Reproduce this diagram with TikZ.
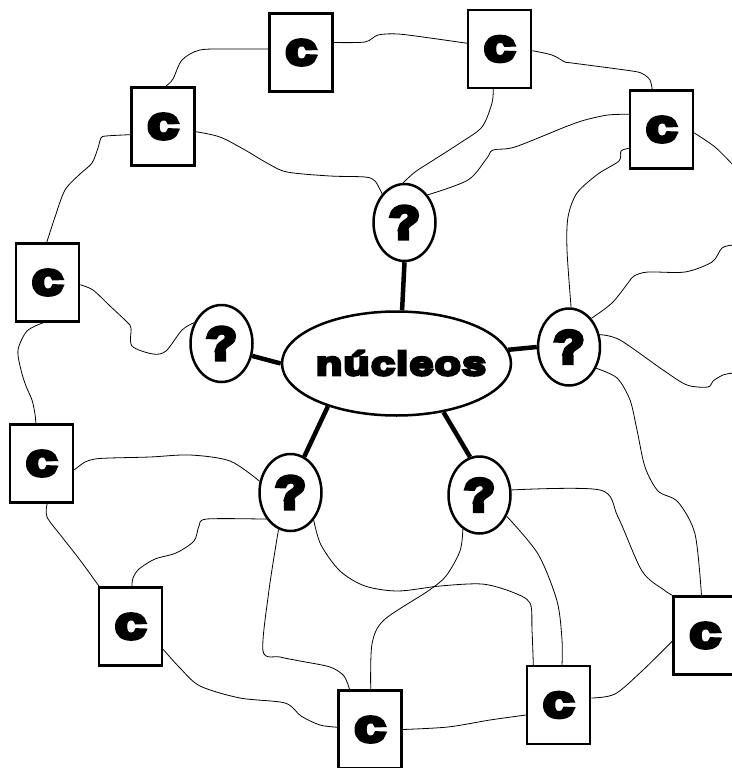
\documentclass[tikz,border=0pt]{standalone}
\usepackage{fontspec}
\usetikzlibrary{shapes.geometric}
\newfontfamily\heavyc[FakeBold=9,FakeStretch=1.25]{Liberation Sans Bold}
\newfontfamily\heavyq[FakeBold=9,FakeStretch=1.1]{Liberation Sans Bold}
\newfontfamily\heavyn[FakeBold=9,FakeStretch=1.3,LetterSpace=4]{Liberation Sans Bold}
\begin{document}
\begin{tikzpicture}[x=1pt,y=-1pt,
  cbox/.style={draw, line width=2.5pt, minimum width=63pt, minimum height=78pt, inner sep=0pt, fill=white,
    font=\heavyc\fontsize{45}{45}\selectfont},
  qnode/.style={ellipse, draw, line width=2.5pt, minimum width=62pt, minimum height=77pt, inner sep=0pt, fill=white,
    font=\heavyq\fontsize{46}{46}\selectfont},
  conn/.style={line width=0.8pt},
  spoke/.style={line width=4.5pt}]
\useasboundingbox (0,0) rectangle (731,768);
% boxes
\node[cbox] (cA) at (301,52.5) {c};
\node[cbox] (cB) at (163,126.5) {c};
\node[cbox] (cC) at (47.5,282.5) {c};
\node[cbox] (cD) at (499.5,49) {c};
\node[cbox] (cE) at (661.5,129.5) {c};
\node[cbox] (cF) at (41.5,463.5) {c};
\node[cbox] (cG) at (130.5,626.5) {c};
\node[cbox] (cH) at (370,729.5) {c};
\node[cbox] (cI) at (558.5,705) {c};
\node[cbox] (cJ) at (705,635.5) {c};
% question ellipses
\node[qnode] (q1) at (404.5,222.5) {?};
\node[qnode] (q2) at (221.5,343.5) {?};
\node[qnode] (q3) at (569,347) {?};
\node[qnode] (q4) at (290.5,492.5) {?};
\node[qnode] (q5) at (479.5,495) {?};
% nucleus
\node[ellipse, draw, line width=2.5pt, minimum width=229pt, minimum height=104pt, inner sep=0pt] (nuc) at (396.5,363.5) {};
\node[font=\heavyn\fontsize{33}{33}\selectfont, inner sep=0pt, anchor=base] (nuctext) at (401,375) {núcleos};
% free ends
\coordinate (e1) at (733,245);
\coordinate (e2) at (733,165);
\coordinate (e3) at (733,373);
% spokes
\draw[spoke] (q1.south) -- (nuc.84);
\draw[spoke] (q2.-22) -- (nuc.west);
\draw[spoke] (q3.west) -- (nuc.7);
\draw[spoke] (nuc.212) -- (q4.69);
\draw[spoke] (nuc.-46) -- (q5.104);
% connectors
\draw[conn] plot[smooth] coordinates {(cB.86) (173,79) (182,60) (200,50) (232,49) (cA.174)};
\draw[conn] plot[smooth] coordinates {(cA.17) (365,42) (378,35) (398,34) (430,38) (cD.170)};
\draw[conn] plot[smooth] coordinates {(cD.-3) (552,55) (565,62) (572,63) (632,71) (643,74) (650,80) (cE.103)};
\draw[conn] plot[smooth] coordinates {(cD.261) (492,103) (482,127) (460,143) (432,161) (415,172) (q1.92)};
\draw[conn] plot[smooth] coordinates {(cE.155) (608,115) (585,120) (565,127) (515,147) (493,150) (487,158) (468,180) (q1.50)};
\draw[conn] plot[smooth] coordinates {(cB.-9) (220,137) (245,150) (267,163) (287,172) (330,176) (365,177) (375,181) (q1.128)};
\draw[conn] plot[smooth] coordinates {(cE.210) (621,151) (619,161) (598,174) (577,193) (568,217) (567,250) (q3.87)};
\draw[conn] plot[smooth] coordinates {(q3.52) (612,303) (628,283) (634,276) (648,272) (685,272) (712,262) (722,248) (e1)};
\draw[conn] plot[smooth] coordinates {(cE.-6) (715,147) (e2)};
\draw[conn] plot[smooth] coordinates {(cC.91) (55,217) (65,190) (80,174) (92,163) (98,148) (101,138) (106,136) (cB.194)};
\draw[conn] plot[smooth] coordinates {(cC.-4) (93,290) (110,306) (127,322) (131,328) (132,346) (153,354) (166,351) (182,330) (q2.143)};
\draw[conn] plot[smooth] coordinates {(cC.264) (27,331) (18,350) (21,370) (26,386) (32,400) (35,414) (cF.98)};
\draw[conn] plot[smooth] coordinates {(cF.-11) (85,462) (95,459) (110,458) (150,457) (190,455) (230,461) (q4.160)};
\draw[conn] plot[smooth] coordinates {(cF.-82) (47,517) (62,537) (80,560) (cG.128)};
\draw[conn] plot[smooth] coordinates {(q4.228) (207,519) (199,526) (194,541) (176,553) (155,559) (139,569) (133,578) (cG.88)};
\draw[conn] plot[smooth] coordinates {(cG.-35) (180,668) (200,686) (240,698) (285,703) (301,716) (320,725) (cH.176)};
\draw[conn] plot[smooth] coordinates {(q4.252) (269,590) (263,651) (280,657) (300,661) (330,667) (344,676) (cH.117)};
\draw[conn] plot[smooth] coordinates {(q4.-50) (321,545) (340,571) (365,586) (398,591) (440,586) (482,584) (512,592) (530,603) (532,630) (cI.122)};
\draw[conn] plot[smooth] coordinates {(q5.244) (460,551) (446,576) (428,591) (384,620) (372,644) (cH.89)};
\draw[conn] plot[smooth] coordinates {(q5.9) (600,490) (618,517) (642,571) (664,590) (cJ.north west)};
\draw[conn] plot[smooth] coordinates {(q5.-38) (538,554) (557,601) (562,640) (cI.85)};
\draw[conn] plot[smooth] coordinates {(cH.east) (448,727) (490,720) (cI.197)};
\draw[conn] plot[smooth] coordinates {(cI.12) (615,694) (642,671) (cJ.190)};
\draw[conn] plot[smooth] coordinates {(q3.-38) (617,378) (630,400) (637,430) (645,467) (658,491) (678,502) (695,534) (cJ.95)};
\draw[conn] plot[smooth] coordinates {(q3.22) (620,340) (663,370) (687,385) (708,387) (713,381) (723,375) (e3)};
\end{tikzpicture}
\end{document}
